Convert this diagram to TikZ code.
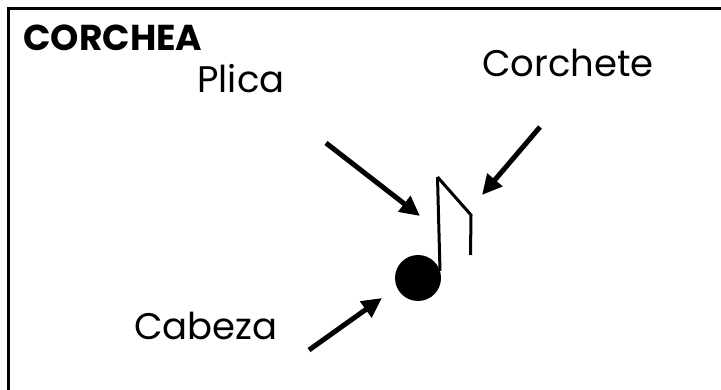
\documentclass[tikz,border=0pt]{standalone}
\usepackage{fontspec}
\setmainfont{Poppins}
\usetikzlibrary{arrows.meta}

\tikzset{
  etiqueta/.style={inner sep=0pt,font=\fontsize{37}{44}\selectfont},
  flecha/.style={->,line width=5pt},
  trazo/.style={line width=3pt}
}

\begin{document}
\begin{tikzpicture}[line cap=butt,line join=miter,>={Triangle[length=20pt,width=19pt]},x=1pt,y=-1pt]
			\useasboundingbox (0,0) rectangle (721,390);
			\clip (0,0) rectangle (721,390);
			%%%%%%%%%%%%%%% F R A M E %%%%%%%%%%%%%%%%
			\draw [line width=3pt] (8.5,395) -- (8.5,8.5) -- (725,8.5);
			%%%%%%%%%%%%%%% N O T E %%%%%%%%%%%%%%%%
			%cabeza
			\node [circle,fill=black,minimum size=46pt,inner sep=0pt] (nota) at (418,278) {};
			%plica
			\coordinate (plicaarriba) at (437.5,177);
			\coordinate (plicaabajo) at (440,271);
			\draw [trazo] (plicaabajo) -- (plicaarriba);
			%corchete
			\coordinate (corchetecodo) at (471,215);
			\coordinate (corchetefin) at (470.5,255);
			\draw [trazo] (plicaarriba) -- (corchetecodo) -- (corchetefin);
			%%%%%%%%%%%%%%% T A G S %%%%%%%%%%%%%%%%
			\node [inner sep=0pt,font=\fontsize{36}{42}\selectfont\bfseries] (titulo) at (113,38) {CORCHEA};
			\node [etiqueta] (plica) at (241,79) {Plica};
			\node [etiqueta] (corchete) at (568,63) {Corchete};
			\node [etiqueta] (cabeza) at (206,326) {Cabeza};
			%%%%%%%%%%%%%%% A R R O W S %%%%%%%%%%%%%%%%
			\coordinate (plicadesde) at (326,143);
			\coordinate (plicahasta) at (420,216);
			\coordinate (corchetedesde) at (540,127);
			\coordinate (corchetehasta) at (482,195);
			\coordinate (cabezadesde) at (309,350);
			\coordinate (cabezahasta) at (382,298);
			\draw [flecha] (plicadesde) -- (plicahasta);
			\draw [flecha] (corchetedesde) -- (corchetehasta);
			\draw [flecha] (cabezadesde) -- (cabezahasta);
\end{tikzpicture}
\end{document}
